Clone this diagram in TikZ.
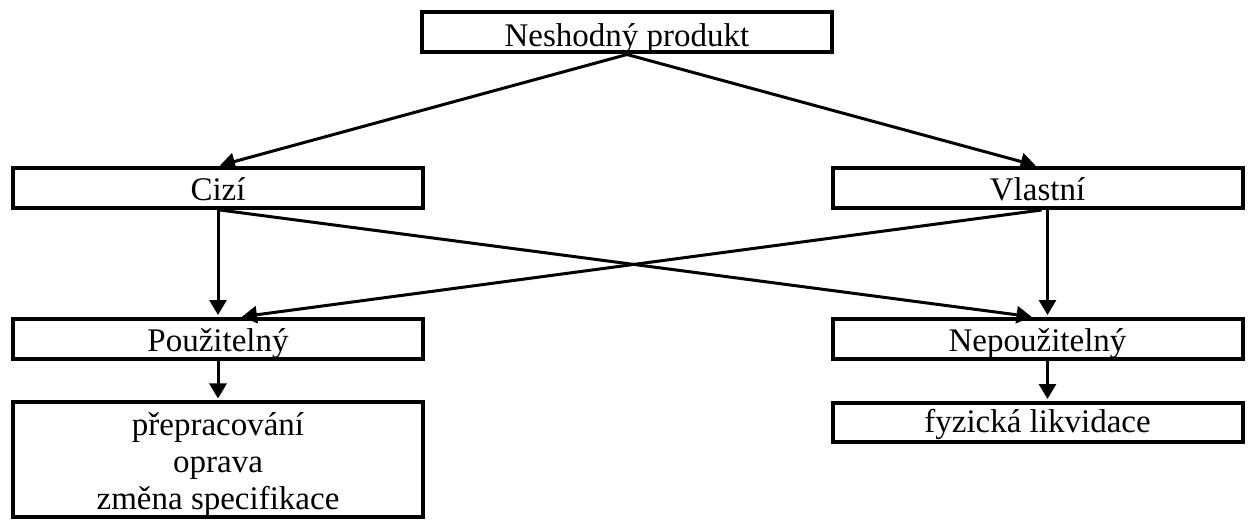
\documentclass[tikz,border=0pt]{standalone}
\usepackage{fontspec}
\setmainfont{Liberation Serif}
\usetikzlibrary{arrows.meta}

\begin{document}
\begin{tikzpicture}[x=1pt,y=-1pt]
\tikzset{>={Triangle[width=17pt,length=15pt]}}
\tikzstyle{box} =[draw, line width=4pt, minimum width=410pt, minimum height=40pt, inner sep=0pt, font=\fontsize{33}{37}\selectfont]
\tikzstyle{oneline} =[text height=24pt, text depth=0pt]
\tikzstyle{link} =[->, line width=3pt, shorten >=2pt]

\useasboundingbox (0,0) rectangle (1249,519);

\node[box,oneline,text height=28pt](produkt) at (627,32.5){Neshodný produkt};
\node[box,oneline](cizi) at (218,188){Cizí};
\node[box,oneline](vlastni) at (1037.5,188){Vlastní};
\node[box,oneline](pouzitelny) at (218,339){Použitelný};
\node[box,oneline](nepouzitelny) at (1037.5,339){Nepoužitelný};
\node[box,minimum height=113pt,align=center](oprava) at (218,459.5){\rule{0pt}{33pt}přepracování\\oprava\\změna specifikace};
\node[box,oneline,text height=20pt,minimum height=39pt](likvidace) at (1037.5,422.5){fyzická likvidace};

\draw [link] (produkt.south) to (cizi.north);
\draw [link] (produkt.south) to (vlastni.north);
\draw [link] (cizi.south) to (pouzitelny.north);
\draw [link] ([xshift=2pt]cizi.south) to ([xshift=-4pt]nepouzitelny.north);
\draw [link] ([xshift=4pt]vlastni.south) to ([xshift=22pt]pouzitelny.north);
\draw [link] ([xshift=10pt]vlastni.south) to ([xshift=10pt]nepouzitelny.north);
\draw [link] (pouzitelny.south) to (oprava.north);
\draw [link] ([xshift=10pt]nepouzitelny.south) to ([xshift=10pt]likvidace.north);
\end{tikzpicture}
\end{document}
